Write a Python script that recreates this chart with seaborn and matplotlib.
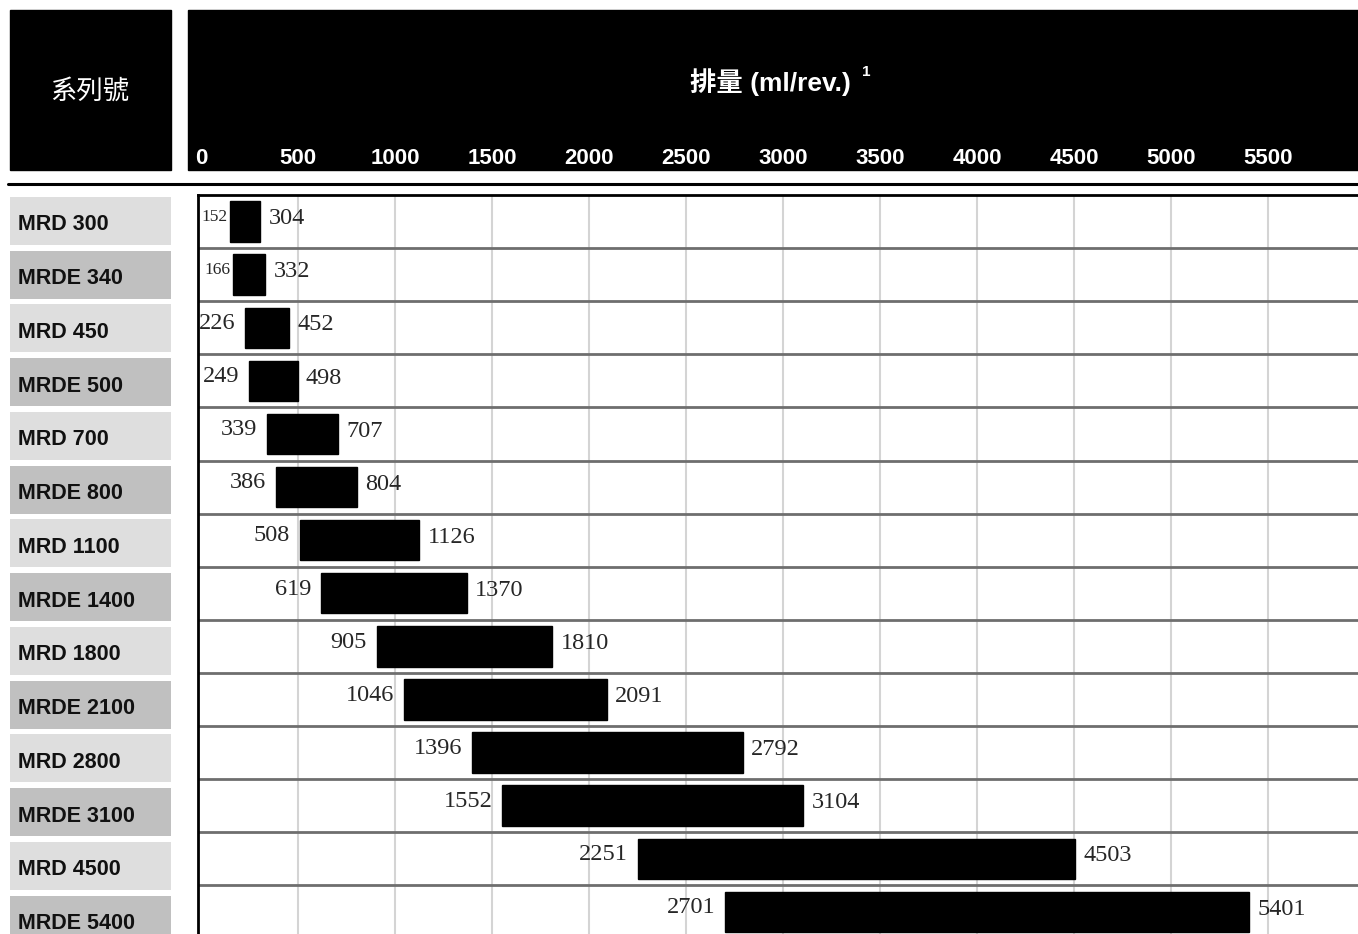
import seaborn as sns
import matplotlib.pyplot as plt
import pandas as pd
from matplotlib.patches import Rectangle
from matplotlib.lines import Line2D
from matplotlib.transforms import blended_transform_factory

series = ['MRD 300', 'MRDE 340', 'MRD 450', 'MRDE 500', 'MRD 700', 'MRDE 800', 'MRD 1100',
          'MRDE 1400', 'MRD 1800', 'MRDE 2100', 'MRD 2800', 'MRDE 3100', 'MRD 4500', 'MRDE 5400']
disp_min = [152, 166, 226, 249, 339, 386, 508, 619, 905, 1046, 1396, 1552, 2251, 2701]
disp_max = [304, 332, 452, 498, 707, 804, 1126, 1370, 1810, 2091, 2792, 3104, 4503, 5401]
ticks = [0, 500, 1000, 1500, 2000, 2500, 3000, 3500, 4000, 4500, 5000, 5500]

df = pd.DataFrame({'series': series, 'lo': disp_min, 'hi': disp_max})
df['span'] = df['hi'] - df['lo']

sns.set_style('white')
plt.rcParams['font.family'] = ['Liberation Sans', 'Noto Sans CJK TC', 'DejaVu Sans']

W, H = 1358, 934
fig = plt.figure(figsize=(W / 100, H / 100), dpi=100)


def fx(px):
    return px / W


def fy(py):
    return 1 - py / H


# main plot area
top_px = 195
ax = fig.add_axes([fx(198), 0, 1 - fx(198), fy(top_px)])
row_h = 53.1
n_vis = (H - top_px) / row_h

for t in ticks[1:]:
    ax.axvline(t, color='#d4d4d4', lw=1.5, zorder=0)
for i in range(1, len(series)):
    ax.axhline(i - 0.5, color='#6e6e6e', lw=2, zorder=0.5)

sns.barplot(data=df, x='span', y='series', orient='h', color='black', width=0.76,
            saturation=1, ax=ax, zorder=2)
for p, lo in zip(ax.patches, df['lo']):
    p.set_x(lo)
    p.set_edgecolor('black')
ax.set_ylim(-0.5 + n_vis, -0.5)
ax.set_xlim(-15.5, 5963)

for i, (lo, hi) in enumerate(zip(df['lo'], df['hi'])):
    small = lo < 200
    ax.annotate(str(lo), (lo, i), xytext=(-2 if small else -7, 3),
                textcoords='offset points', ha='right', va='center',
                family='Liberation Serif', fontsize=12.5 if small else 17.5)
    ax.annotate(str(hi), (hi, i), xytext=(6, 2), textcoords='offset points',
                ha='left', va='center', family='Liberation Serif', fontsize=17.5)

ax.set_xticks([])
ax.set_yticks([])
ax.set_xlabel('')
ax.set_ylabel('')
for s in ['right', 'bottom']:
    ax.spines[s].set_visible(False)
for s in ['left', 'top']:
    ax.spines[s].set_color('black')
    ax.spines[s].set_linewidth(2)

# left label column (pixel units, its own slightly larger pitch)
axl = fig.add_axes([fx(10), 0, fx(171) - fx(10), fy(top_px)])
axl.set_ylim(H, top_px)
axl.set_xlim(0, 1)
axl.axis('off')
for i, name in enumerate(series):
    shade = '#dedede' if name.startswith('MRD ') else '#c0c0c0'
    y0 = 197 + 53.75 * i
    axl.add_patch(Rectangle((0, y0), 1, 48, color=shade, lw=0))
    axl.text(0.05, y0 + 28, name, ha='left', va='center', fontsize=15.5,
             fontweight='bold', color='#111111')

# header
fig.patches.append(Rectangle((fx(10), fy(170)), fx(171) - fx(10), fy(10) - fy(170),
                             transform=fig.transFigure, color='black', zorder=-1))
fig.patches.append(Rectangle((fx(188), fy(170)), 1 - fx(188), fy(10) - fy(170),
                             transform=fig.transFigure, color='black', zorder=-1))
fig.lines.append(Line2D([fx(8), 1], [fy(184), fy(184)], transform=fig.transFigure,
                        color='black', lw=2.2))

fig.text(fx(90), fy(91), '系列號', color='white', ha='center', va='center', fontsize=19,
         family=['Noto Sans CJK TC', 'DejaVu Sans'])
fig.text(fx(770), fy(82), '排量 (ml/rev.)', color='white', ha='center', va='center',
         fontsize=19, fontweight='bold', family=['Liberation Sans', 'Noto Sans CJK TC'])
fig.text(fx(866), fy(72), '1', color='white', ha='center', va='center', fontsize=11,
         fontweight='bold')

trans = blended_transform_factory(ax.transData, fig.transFigure)
for t in ticks:
    fig.text(t, fy(158), str(t), transform=trans, color='white', ha='center',
             va='center', fontsize=16, fontweight='bold')

fig.savefig('out.png', dpi=100)
